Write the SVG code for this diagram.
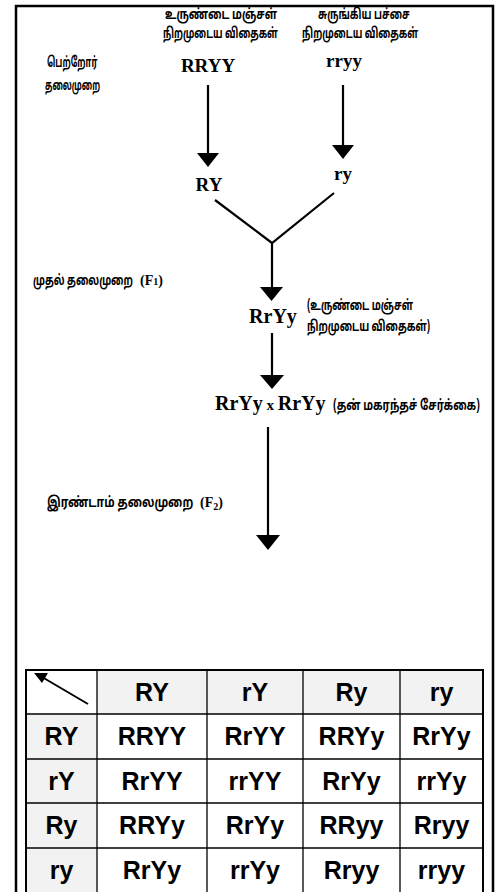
<svg xmlns="http://www.w3.org/2000/svg" width="500" height="892" viewBox="0 0 500 892">
<style>
.ta{font-family:"Noto Sans Tamil","Noto Sans","Lato",sans-serif;font-weight:bold;font-size:14.5px;fill:#000}
.gn{font-family:"Liberation Serif","Times New Roman",serif;font-weight:bold;fill:#000}
.ln{stroke:#000;stroke-width:2.2;fill:none}
.hd{fill:#000}
.g{fill:#f2f2f2}
.w{fill:#fff}
.tt{font-family:"Liberation Sans",Arial,sans-serif;font-weight:bold;font-size:25px;fill:#000;text-anchor:middle}
</style>
<rect width="500" height="892" fill="#fff"/>
<path d="M16,892 V6 H493 V892" fill="none" stroke="#000" stroke-width="2.5"/>

<g id="label-parent1">
<text class="ta" transform="translate(165,19) scale(0.68,1)" textLength="165" lengthAdjust="spacingAndGlyphs">உருண்டை மஞ்சள்</text>
<text class="ta" transform="translate(163,38) scale(0.68,1)" textLength="169" lengthAdjust="spacingAndGlyphs">நிறமுடைய விதைகள்</text>
<text class="gn" x="208" y="72" font-size="19" text-anchor="middle">RRYY</text>
</g>
<g id="label-parent2">
<text class="ta" transform="translate(318,19) scale(0.68,1)" textLength="135" lengthAdjust="spacingAndGlyphs">சுருங்கிய பச்சை</text>
<text class="ta" transform="translate(302,38) scale(0.68,1)" textLength="171" lengthAdjust="spacingAndGlyphs">நிறமுடைய விதைகள்</text>
<text class="gn" x="344" y="67" font-size="19" text-anchor="middle">rryy</text>
</g>
<g id="label-parent-gen">
<text class="ta" transform="translate(47,67) scale(0.68,1)" textLength="74" lengthAdjust="spacingAndGlyphs">பெற்றோர்</text>
<text class="ta" transform="translate(45,90) scale(0.68,1)" textLength="81" lengthAdjust="spacingAndGlyphs">தலைமுறை</text>
</g>
<g id="gamete-RY"><text class="gn" x="209" y="191" font-size="19" text-anchor="middle">RY</text></g>
<g id="gamete-ry"><text class="gn" x="343" y="180" font-size="19" text-anchor="middle">ry</text></g>
<g id="label-f1">
<text class="ta" transform="translate(33,285) scale(0.68,1)" textLength="147" lengthAdjust="spacingAndGlyphs">முதல் தலைமுறை</text>
<text class="gn" x="140" y="285" font-size="14">(F<tspan font-size="10">1</tspan>)</text>
</g>
<g id="f1">
<text class="gn" x="273" y="323" font-size="20" text-anchor="middle">RrYy</text>
<text class="ta" transform="translate(307,310) scale(0.68,1)" textLength="156" lengthAdjust="spacingAndGlyphs">(உருண்டை மஞ்சள்</text>
<text class="ta" transform="translate(307,331) scale(0.68,1)" textLength="181" lengthAdjust="spacingAndGlyphs">நிறமுடைய விதைகள்)</text>
</g>
<g id="cross">
<text class="gn" x="215" y="410" font-size="20">RrYy<tspan font-size="15"> x </tspan>RrYy</text>
<text class="ta" transform="translate(333,410) scale(0.68,1)" textLength="216" lengthAdjust="spacingAndGlyphs">(தன் மகரந்தச் சேர்க்கை)</text>
</g>
<g id="label-f2">
<text class="ta" transform="translate(47,507) scale(0.68,1)" textLength="215" lengthAdjust="spacingAndGlyphs">இரண்டாம் தலைமுறை</text>
<text class="gn" x="200" y="507" font-size="14">(F<tspan font-size="10" dy="3">2</tspan><tspan dy="-3">)</tspan></text>
</g>

<g id="connectors">
<line class="ln" x1="208" y1="85" x2="208" y2="155"/>
<polygon class="hd" points="197,153 219,153 208,167"/>
<line class="ln" x1="343" y1="85" x2="343" y2="147"/>
<polygon class="hd" points="332,145 354,145 343,159"/>
<polyline class="ln" points="215,200 272,243 334,193"/>
<line class="ln" x1="272" y1="243" x2="272" y2="289"/>
<polygon class="hd" points="260,287 283,287 271.5,301"/>
<line class="ln" x1="272" y1="333" x2="272" y2="377"/>
<polygon class="hd" points="260,375 284,375 272,389"/>
<line class="ln" x1="268" y1="427" x2="268" y2="537"/>
<polygon class="hd" points="256,535 280,535 268,550"/>
</g>

<g id="punnett">
<rect class="w" x="26" y="670" width="71" height="44"/>
<rect class="g" x="97" y="670" width="386" height="44"/>
<rect class="g" x="26" y="714" width="71" height="178"/>
<rect class="w" x="97" y="714" width="386" height="178"/>
<g stroke="#000" stroke-width="1.3">
<line x1="26" y1="714" x2="483" y2="714"/>
<line x1="26" y1="759" x2="483" y2="759"/>
<line x1="26" y1="803" x2="483" y2="803"/>
<line x1="26" y1="848" x2="483" y2="848"/>
<line x1="97" y1="670" x2="97" y2="892"/>
<line x1="207" y1="670" x2="207" y2="892"/>
<line x1="303" y1="670" x2="303" y2="892"/>
<line x1="400" y1="670" x2="400" y2="892"/>
</g>
<path d="M26,892 V670 H483 V892" fill="none" stroke="#000" stroke-width="2"/>
<line x1="88" y1="704" x2="42" y2="677" stroke="#000" stroke-width="2"/>
<polygon points="34,673 48,673 42,683" fill="#000"/>
<g class="tt">
<text x="152" y="701">RY</text>
<text x="255" y="701">rY</text>
<text x="351.5" y="701">Ry</text>
<text x="441.5" y="701">ry</text>
<text x="61.5" y="745">RY</text>
<text x="152" y="745">RRYY</text>
<text x="255" y="745">RrYY</text>
<text x="351.5" y="745">RRYy</text>
<text x="441.5" y="745">RrYy</text>
<text x="61.5" y="790">rY</text>
<text x="152" y="790">RrYY</text>
<text x="255" y="790">rrYY</text>
<text x="351.5" y="790">RrYy</text>
<text x="441.5" y="790">rrYy</text>
<text x="61.5" y="834">Ry</text>
<text x="152" y="834">RRYy</text>
<text x="255" y="834">RrYy</text>
<text x="351.5" y="834">RRyy</text>
<text x="441.5" y="834">Rryy</text>
<text x="61.5" y="879">ry</text>
<text x="152" y="879">RrYy</text>
<text x="255" y="879">rrYy</text>
<text x="351.5" y="879">Rryy</text>
<text x="441.5" y="879">rryy</text>
</g>
</g>
</svg>
